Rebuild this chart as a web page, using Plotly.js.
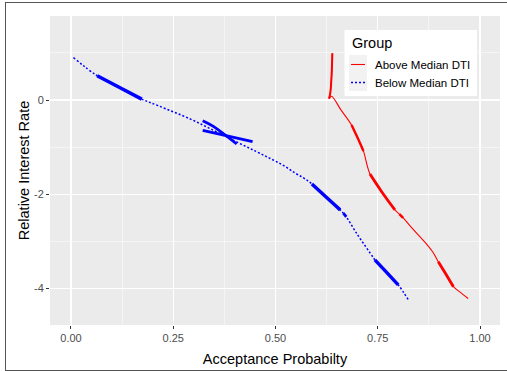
<!DOCTYPE html>
<html>
<head>
<meta charset="utf-8">
<script src="https://cdn.plot.ly/plotly-3.0.1.min.js"></script>
<style>
html,body{margin:0;padding:0;background:#fff;}
#chart{position:absolute;left:0;top:0;width:507px;height:371px;}
#frame{position:absolute;left:5px;top:2px;width:510px;height:367px;border:1.5px solid #555;pointer-events:none;}
</style>
</head>
<body>
<div id="chart"></div>
<div id="frame"></div>
<script>
// ---- data ----
const seriesNames = ["Above Median DTI", "Below Median DTI"];

// Below Median DTI (blue, dotted)
const blueX = [0.006, 0.064, 0.12, 0.173, 0.213, 0.291, 0.35, 0.403, 0.45, 0.487, 0.52, 0.548, 0.57, 0.589, 0.625, 0.658, 0.670, 0.70, 0.739, 0.743, 0.77, 0.800, 0.825];
const blueY = [0.90, 0.515, 0.26, 0.02, -0.12, -0.40, -0.65, -0.88, -1.08, -1.24, -1.39, -1.55, -1.66, -1.78, -2.07, -2.33, -2.44, -2.85, -3.34, -3.39, -3.64, -3.92, -4.24];
// dense parts of the blue series
const blueDense1X = [0.064, 0.12, 0.173];
const blueDense1Y = [0.515, 0.26, 0.02];
const blueDense2X = [0.589, 0.625, 0.658];
const blueDense2Y = [-1.78, -2.07, -2.33];
const blueDense3X = [0.666, 0.673];
const blueDense3Y = [-2.40, -2.48];
const blueDense4X = [0.743, 0.77, 0.800];
const blueDense4Y = [-3.39, -3.64, -3.92];
const blueCrossAX = [0.322, 0.348, 0.405];
const blueCrossAY = [-0.439, -0.56, -0.933];
const blueCrossBX = [0.322, 0.444];
const blueCrossBY = [-0.643, -0.884];

// Above Median DTI (red, solid)
const redX = [0.639, 0.637, 0.634, 0.631, 0.637, 0.66, 0.686, 0.707, 0.715, 0.731, 0.76, 0.792, 0.809, 0.83, 0.853, 0.87, 0.885, 0.898, 0.915, 0.935, 0.955, 0.971];
const redY = [0.99, 0.5, 0.15, 0.03, 0.08, -0.21, -0.53, -0.92, -1.08, -1.57, -1.95, -2.33, -2.47, -2.68, -2.90, -3.06, -3.23, -3.43, -3.67, -3.96, -4.10, -4.21];
const redDense0X = [0.639, 0.637, 0.634, 0.631];
const redDense0Y = [0.99, 0.5, 0.15, 0.03];
const redDense1X = [0.686, 0.707, 0.715];
const redDense1Y = [-0.53, -0.92, -1.08];
const redDense2X = [0.731, 0.76, 0.792];
const redDense2Y = [-1.57, -1.95, -2.33];
const redDense3X = [0.803, 0.812];
const redDense3Y = [-2.42, -2.50];
const redDense4X = [0.898, 0.915, 0.935];
const redDense4Y = [-3.43, -3.67, -3.96];

// axes
const xTickVals = [0, 0.25, 0.5, 0.75, 1];
const xTickText = ["0.00", "0.25", "0.50", "0.75", "1.00"];
const yTickVals = [-4, -2, 0];
const yTickText = ["-4", "-2", "0"];

const RED = "#FF0000", BLUE = "#0000FF";
const FONT = "Liberation Sans, Arial, Helvetica, sans-serif";

function seg(x, y, color, width, dash) {
  return {x: x, y: y, type: "scatter", mode: "lines", showlegend: false, hoverinfo: "skip",
          line: {color: color, width: width, dash: dash || "solid", shape: "spline", smoothing: 1}};
}

const traces = [
  Object.assign(seg(blueX, blueY, BLUE, 1.5, "2px,2px"), {name: seriesNames[1]}),
  seg(blueDense1X, blueDense1Y, BLUE, 3.6),
  seg(blueDense2X, blueDense2Y, BLUE, 3.4),
  seg(blueDense3X, blueDense3Y, BLUE, 2.8),
  seg(blueDense4X, blueDense4Y, BLUE, 3.4),
  seg(blueCrossAX, blueCrossAY, BLUE, 2.8),
  seg(blueCrossBX, blueCrossBY, BLUE, 2.8),
  Object.assign(seg(redX, redY, RED, 1.1), {name: seriesNames[0]}),
  seg(redDense0X, redDense0Y, RED, 2),
  seg(redDense1X, redDense1Y, RED, 2.4),
  seg(redDense2X, redDense2Y, RED, 2.8),
  seg(redDense3X, redDense3Y, RED, 2.4),
  seg(redDense4X, redDense4Y, RED, 2.8)
];

// legend drawn in paper coordinates (plot area: x 50..500 px, y 16..325 px)
const W = 507, H = 371, L = 50, R = 7, T = 16, B = 46;
const pw = W - L - R, ph = H - T - B;
const px = v => (v - L) / pw;
const py = v => (H - B - v) / ph;

const shapes = [
  {type: "rect", xref: "paper", yref: "paper", x0: px(344.5), x1: px(477), y0: py(96), y1: py(30),
   fillcolor: "#FFFFFF", line: {width: 0}, layer: "above"},
  {type: "rect", xref: "paper", yref: "paper", x0: px(349), x1: px(367), y0: py(73), y1: py(55),
   fillcolor: "#F2F2F2", line: {width: 0}, layer: "above"},
  {type: "rect", xref: "paper", yref: "paper", x0: px(349), x1: px(367), y0: py(91), y1: py(73),
   fillcolor: "#F2F2F2", line: {width: 0}, layer: "above"},
  {type: "line", xref: "paper", yref: "paper", x0: px(351), x1: px(365), y0: py(64.5), y1: py(64.5),
   line: {color: RED, width: 1.1}, layer: "above"},
  {type: "line", xref: "paper", yref: "paper", x0: px(351), x1: px(365), y0: py(82.5), y1: py(82.5),
   line: {color: BLUE, width: 1.5, dash: "2px,2px"}, layer: "above"}
];

const annotations = [
  {text: "Group", xref: "paper", yref: "paper", x: px(349.5), y: py(43), xanchor: "left", yanchor: "middle",
   showarrow: false, font: {family: FONT, size: 14.5, color: "#000"}},
  {text: seriesNames[0], xref: "paper", yref: "paper", x: px(373), y: py(65), xanchor: "left", yanchor: "middle",
   showarrow: false, font: {family: FONT, size: 11.5, color: "#000"}},
  {text: seriesNames[1], xref: "paper", yref: "paper", x: px(373), y: py(83), xanchor: "left", yanchor: "middle",
   showarrow: false, font: {family: FONT, size: 11.5, color: "#000"}}
];

const layout = {
  width: W, height: H,
  margin: {l: L, r: R, t: T, b: B, pad: 0},
  paper_bgcolor: "#FFFFFF",
  plot_bgcolor: "#EBEBEB",
  showlegend: false,
  font: {family: FONT, color: "#4D4D4D", size: 11},
  xaxis: {
    range: [-0.0513, 1.0489], automargin: false,
    tickvals: xTickVals, ticktext: xTickText,
    ticks: "outside", ticklen: 3, tickwidth: 1, tickcolor: "#333333",
    tickfont: {family: FONT, size: 11, color: "#4D4D4D"},
    showgrid: true, gridcolor: "#FFFFFF", gridwidth: 1.1,
    minor: {tick0: 0.125, dtick: 0.25, showgrid: true, gridcolor: "#FFFFFF", gridwidth: 0.5},
    zeroline: false, showline: false,
    title: {text: "Acceptance Probabilty", font: {family: FONT, size: 14.5, color: "#000"}, standoff: 10}
  },
  yaxis: {
    range: [-4.772, 1.782], automargin: false,
    tickvals: yTickVals, ticktext: yTickText,
    ticks: "outside", ticklen: 3, tickwidth: 1, tickcolor: "#333333",
    tickfont: {family: FONT, size: 11, color: "#4D4D4D"},
    showgrid: true, gridcolor: "#FFFFFF", gridwidth: 1.1,
    minor: {tick0: -5, dtick: 2, showgrid: true, gridcolor: "#FFFFFF", gridwidth: 0.5},
    zeroline: false, showline: false,
    title: {text: "Relative Interest Rate", font: {family: FONT, size: 14.5, color: "#000"}, standoff: 0}
  },
  shapes: shapes,
  annotations: annotations
};

Plotly.newPlot("chart", traces, layout, {displayModeBar: false, staticPlot: true});
</script>
</body>
</html>
